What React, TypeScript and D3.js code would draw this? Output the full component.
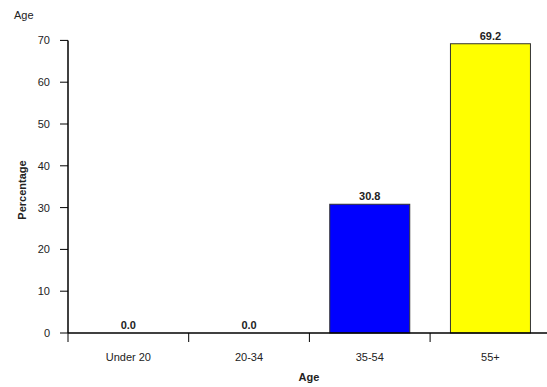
import React from "react";
import * as d3 from "d3";

const categories = ["Under 20", "20-34", "35-54", "55+"];
const values = [0.0, 0.0, 30.8, 69.2];
const barColors = ["#0000FF", "#FF0000", "#0000FF", "#FFFF00"];
const yTicks = [0, 10, 20, 30, 40, 50, 60, 70];

export default function App() {
  const W = 547, H = 387;
  const x0 = 68, x1 = 550.8, yBase = 333, yTop = 40.4;
  const x = d3.scaleBand<string>().domain(categories).range([x0, x1]).paddingInner(0).paddingOuter(0);
  const y = d3.scaleLinear().domain([0, 70]).range([yBase, yTop]);
  const bw = 80;
  const font = "Liberation Sans, Arial, sans-serif";
  return (
    <svg width={W} height={H} style={{ position: "absolute", left: 0, top: 0, background: "#fff" }} fontFamily={font}>
      <text x={14} y={19} fontSize={11} fill="#222">Age</text>
      <text transform={`translate(26,190) rotate(-90)`} textAnchor="middle" fontSize={11} fontWeight="bold" fill="#222">Percentage</text>
      {categories.map((c, i) => {
        const cx = (x(c) as number) + x.bandwidth() / 2;
        const v = values[i];
        return (
          <g key={c}>
            {v > 0 && (
              <rect x={cx - bw / 2} y={y(v)} width={bw} height={yBase - y(v)} fill={barColors[i]} stroke="#333" strokeWidth={1} />
            )}
            <text x={cx} y={y(v) - 4} textAnchor="middle" fontSize={11} fontWeight="bold" fill="#222">{v.toFixed(1)}</text>
            <text x={cx} y={361} textAnchor="middle" fontSize={11} fill="#222">{c}</text>
          </g>
        );
      })}
      {yTicks.map(t => (
        <g key={t}>
          <line x1={60} x2={x0} y1={y(t)} y2={y(t)} stroke="#000" />
          <text x={50} y={y(t) + 4} textAnchor="end" fontSize={11} fill="#222">{t}</text>
        </g>
      ))}
      {categories.map(c => (
        <line key={c} x1={(x(c) as number)} x2={(x(c) as number)} y1={yBase} y2={yBase + 9} stroke="#000" />
      ))}
      <line x1={x0} x2={x0} y1={yTop} y2={yBase} stroke="#000" strokeWidth={1.5} />
      <line x1={x0} x2={W} y1={yBase} y2={yBase} stroke="#000" strokeWidth={1.5} />
      <text x={309} y={381} textAnchor="middle" fontSize={11} fontWeight="bold" fill="#222">Age</text>
    </svg>
  );
}
